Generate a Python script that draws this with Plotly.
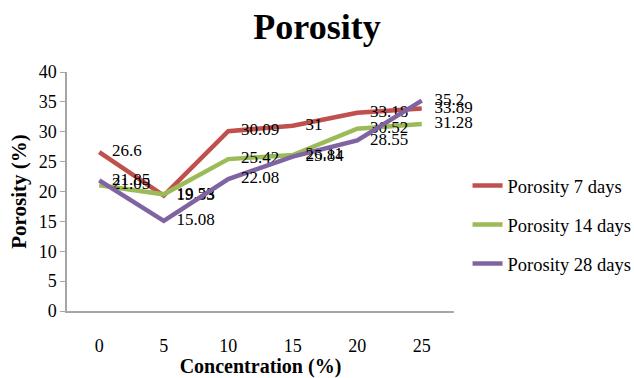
import plotly.graph_objects as go

concentration = [0, 5, 10, 15, 20, 25]
porosity_7 = [26.6, 19.33, 30.09, 31, 33.18, 33.89]
porosity_14 = [21.05, 19.53, 25.42, 26.11, 30.52, 31.28]
porosity_28 = [21.85, 15.08, 22.08, 25.84, 28.55, 35.2]
series_names = ["Porosity 7 days", "Porosity 14 days", "Porosity 28 days"]
colors = ["#c0504d", "#9bbb59", "#8064a2"]
y_ticks = [0, 5, 10, 15, 20, 25, 30, 35, 40]

FONT = "Liberation Serif"
PAD = "\u00a0\u00a0\u00a0"

fig = go.Figure()
for i, (name, vals) in enumerate(zip(series_names, [porosity_7, porosity_14, porosity_28])):
    fig.add_trace(go.Scatter(
        x=concentration, y=vals, name=name, mode="lines+text",
        text=[PAD + str(v) for v in vals], textposition="middle right",
        textfont=dict(family=FONT, size=17, color="#000000"),
        line=dict(color=colors[i], width=4.5),
        legendgroup=f"g{i}", cliponaxis=False,
    ))

fig.update_layout(
    width=634, height=378,
    margin=dict(l=67, r=180, t=72, b=67, autoexpand=False),
    paper_bgcolor="white", plot_bgcolor="white",
    font=dict(family=FONT, color="#000000"),
    title=dict(text="<b>Porosity</b>", x=0.5, xanchor="center", y=0.93, yanchor="middle",
               font=dict(family=FONT, size=36, color="#000000")),
    showlegend=True,
    legend=dict(x=1.035, xanchor="left", y=0.36, yanchor="middle",
                font=dict(family=FONT, size=18.5, color="#000000"),
                tracegroupgap=12, bgcolor="rgba(0,0,0,0)"),
)
fig.update_xaxes(
    range=[-2.5, 27.5], tickvals=concentration, ticktext=[str(c) for c in concentration],
    showline=True, linecolor="#a6a6a6", linewidth=1.5, showgrid=False, zeroline=False,
    ticks="outside", ticklen=18, tickcolor="rgba(0,0,0,0)", automargin=False,
    tickfont=dict(family=FONT, size=18, color="#000000"),
    title=dict(text="<b>Concentration (%)</b>", font=dict(family=FONT, size=20, color="#000000"), standoff=8),
)
fig.update_yaxes(
    range=[0, 40], tickvals=y_ticks, ticktext=[str(t) for t in y_ticks],
    showline=True, linecolor="#a6a6a6", linewidth=1.5, showgrid=False, zeroline=False,
    ticks="outside", ticklen=5, tickcolor="#a6a6a6", automargin=False,
    tickfont=dict(family=FONT, size=18, color="#000000"),
    title=dict(text="<b>Porosity (%)</b>", font=dict(family=FONT, size=21, color="#000000"), standoff=6),
)

fig.write_html("out.html")
